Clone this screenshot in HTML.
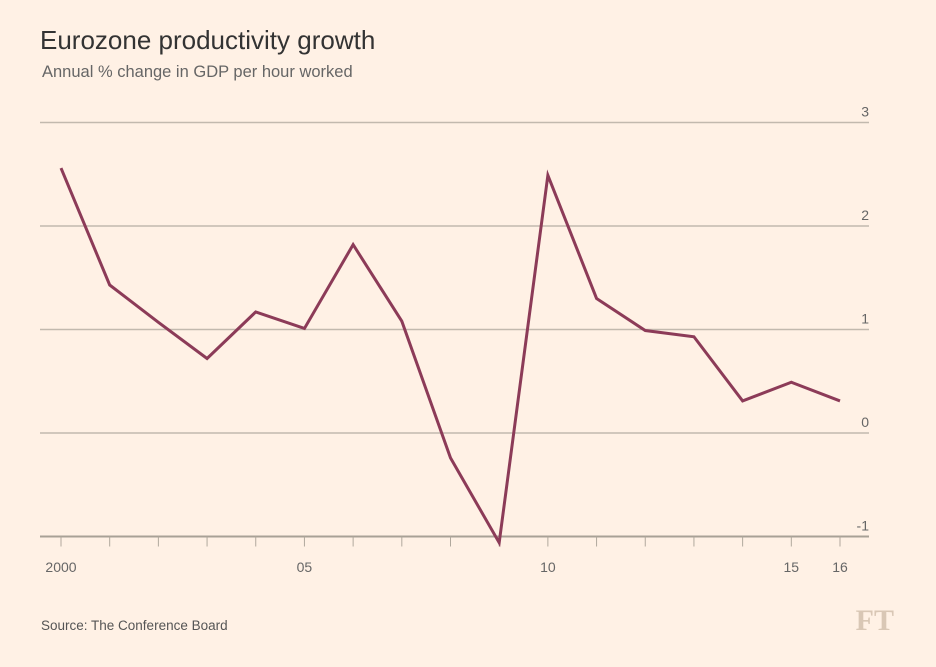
<!DOCTYPE html>
<html><head><meta charset="utf-8"><style>
body{margin:0;background:#fff1e5;width:936px;height:662px;overflow:hidden;font-family:"Liberation Sans",sans-serif;}
</style></head><body>
<svg width="936" height="662" id="svg">
<rect x="0" y="0" width="936" height="662" fill="#fff1e5"/>
<text x="40" y="49" font-size="26" fill="#333">Eurozone productivity growth</text>
<text x="42" y="77" font-size="16.5" fill="#666">Annual % change in GDP per hour worked</text>
<text x="41" y="630" font-size="13.5" fill="#555">Source: The Conference Board</text>
<text x="894" y="630" font-size="30" text-anchor="end" fill="#d9c7b5" font-family="Liberation Serif,serif" font-weight="bold">FT</text>
<g id="g"></g>
</svg>
<script>
const years=[2000,2001,2002,2003,2004,2005,2006,2007,2008,2009,2010,2011,2012,2013,2014,2015,2016];
const values=[2.56,1.43,1.07,0.72,1.17,1.01,1.82,1.08,-0.24,-1.06,2.49,1.30,0.99,0.93,0.31,0.49,0.31];
const yTicks=[3,2,1,0,-1];
const yTickLabels=["3","2","1","0","-1"];
const xLabelYears=[2000,2005,2010,2015,2016];
const xLabels=["2000","05","10","15","16"];
const NS="http://www.w3.org/2000/svg";
const g=document.getElementById('g');
const x=v=>61+(v-2000)*(840-61)/16;
const y=v=>433-v*103.5;
function mk(t,a){const e=document.createElementNS(NS,t);for(const k in a)e.setAttribute(k,a[k]);g.appendChild(e);return e;}
yTicks.forEach((t,i)=>{
 const l=mk('line',{x1:40,x2:869,y1:y(t),y2:y(t),stroke:t===-1?'#a8a196':'#c2b9ae','stroke-width':t===-1?2:1.5});
 
 
 const tx=mk('text',{x:869,y:y(t)-6,'font-size':14,'text-anchor':'end',fill:'#666'});
 tx.textContent=yTickLabels[i];
 
 
});
years.forEach(yr=>{
 const l=mk('line',{x1:x(yr),x2:x(yr),y1:y(-1),y2:y(-1)+10,stroke:'#b0a89d','stroke-width':1});
 
 
});
xLabelYears.forEach((yr,i)=>{
 const tx=mk('text',{x:x(yr),y:572,'font-size':14,'text-anchor':'middle',fill:'#666'});
 tx.textContent=xLabels[i];
 
 
});
const p=mk('polyline',{points:years.map((yr,i)=>x(yr)+','+y(values[i])).join(' '),fill:'none',stroke:'#8c3b58','stroke-width':3,'stroke-linejoin':'miter'});


</script>
</body></html>
